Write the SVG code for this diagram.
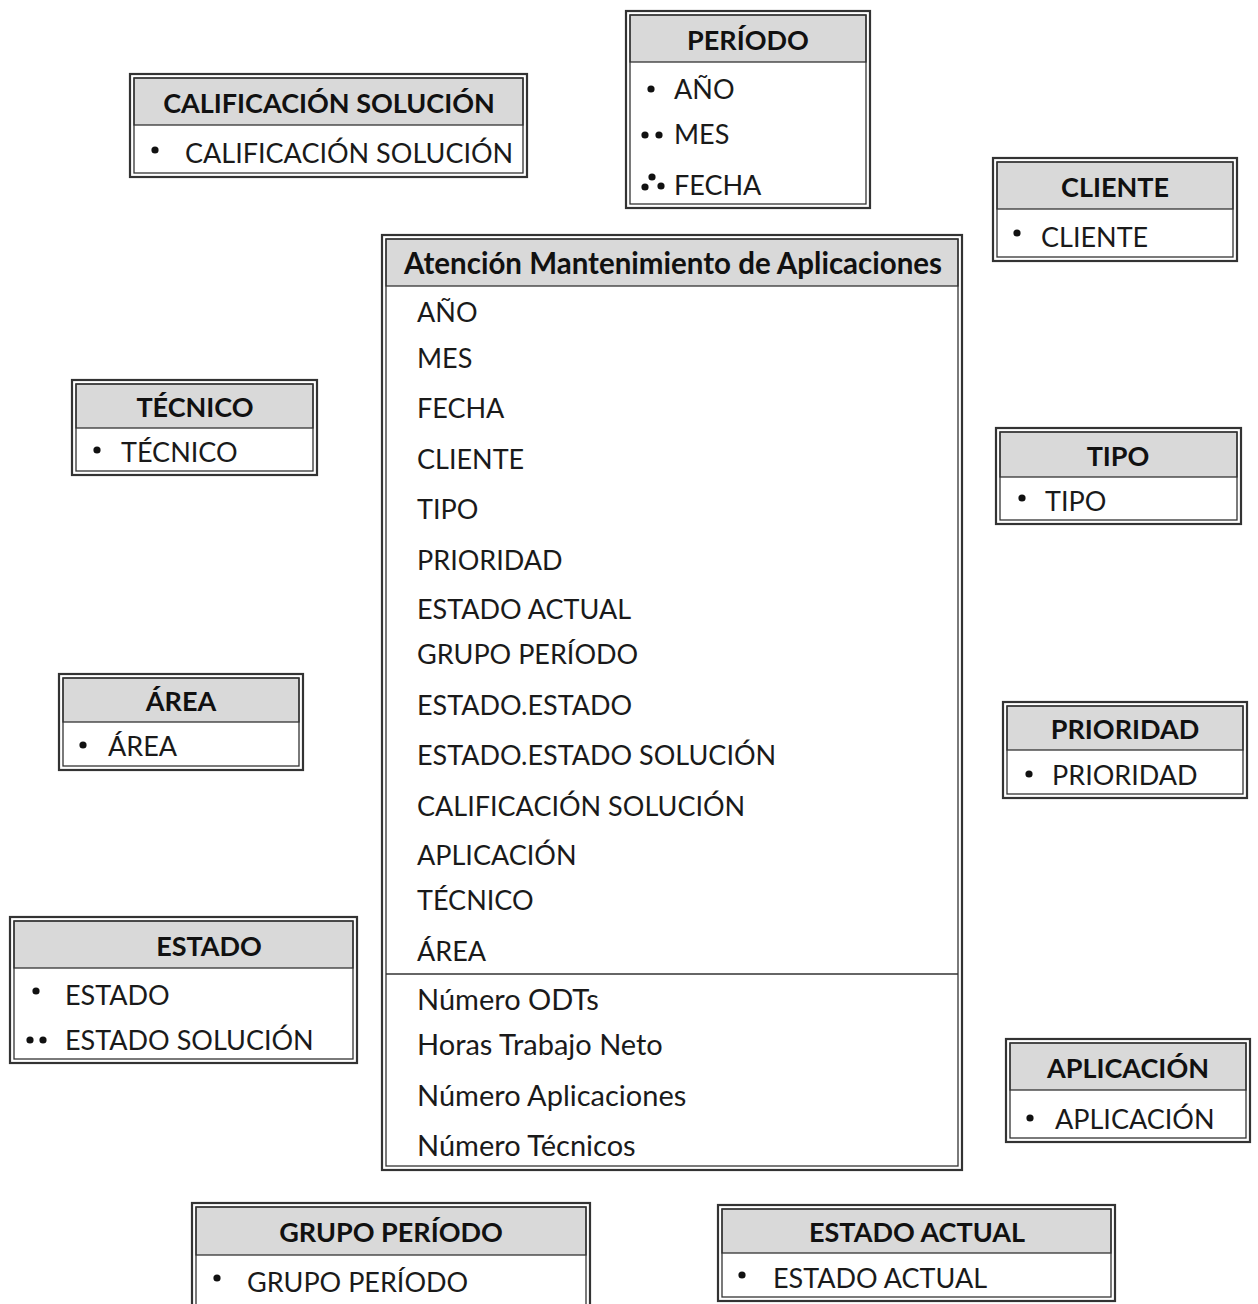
<svg xmlns="http://www.w3.org/2000/svg" width="1258" height="1304" viewBox="0 0 1258 1304">
  <style>
    .outer { fill: #ffffff; stroke: #333333; stroke-width: 2.2; }
    .inner { fill: none; stroke: #333333; stroke-width: 1.3; }
    .head { fill: #d9d9d9; stroke: #333333; stroke-width: 1.3; }
    .sep { stroke: #333333; stroke-width: 1.5; }
    .title { font-family: Lato, "Liberation Sans", sans-serif; font-weight: bold; font-size: 27px; fill: #111; text-anchor: middle; }
    .title-mixed { font-size: 29.5px; }
    .item { font-family: Lato, "Liberation Sans", sans-serif; font-size: 27px; fill: #1a1a1a; }
    .measure { font-size: 29px; }
    .dot { fill: #111; }
  </style>
  <rect width="1258" height="1304" fill="#ffffff"/>

  <!-- CALIFICACIÓN SOLUCIÓN -->
  <g id="calificacion">
    <rect class="outer" x="130" y="74" width="397" height="103"/>
    <rect class="head" x="134" y="78" width="389" height="47"/>
    <rect class="inner" x="134" y="78" width="389" height="95"/>
    <text class="title" x="329" y="113">CALIFICACIÓN SOLUCIÓN</text>
    <circle class="dot" cx="155" cy="150" r="3.6"/>
    <text class="item" x="185" y="163">CALIFICACIÓN SOLUCIÓN</text>
  </g>

  <!-- PERÍODO -->
  <g id="periodo">
    <rect class="outer" x="626" y="11" width="244" height="197"/>
    <rect class="head" x="630" y="15" width="236" height="47"/>
    <rect class="inner" x="630" y="15" width="236" height="189"/>
    <text class="title" x="748" y="50">PERÍODO</text>
    <circle class="dot" cx="651" cy="89" r="3.6"/>
    <text class="item" x="674" y="99">AÑO</text>
    <circle class="dot" cx="645" cy="135" r="3.6"/>
    <circle class="dot" cx="659" cy="135" r="3.6"/>
    <text class="item" x="674" y="144">MES</text>
    <circle class="dot" cx="652" cy="177" r="3.6"/>
    <circle class="dot" cx="645" cy="187" r="3.6"/>
    <circle class="dot" cx="661" cy="186" r="3.6"/>
    <text class="item" x="674" y="195">FECHA</text>
  </g>

  <!-- CLIENTE -->
  <g id="cliente">
    <rect class="outer" x="993" y="158" width="244" height="103"/>
    <rect class="head" x="997" y="162" width="236" height="47"/>
    <rect class="inner" x="997" y="162" width="236" height="95"/>
    <text class="title" x="1115" y="197">CLIENTE</text>
    <circle class="dot" cx="1017" cy="233" r="3.6"/>
    <text class="item" x="1041" y="247">CLIENTE</text>
  </g>

  <!-- Atención Mantenimiento de Aplicaciones -->
  <g id="hecho">
    <rect class="outer" x="382" y="235" width="580" height="935"/>
    <rect class="head" x="386" y="239" width="572" height="47"/>
    <rect class="inner" x="386" y="239" width="572" height="927"/>
    <text class="title title-mixed" x="673" y="274">Atención Mantenimiento de Aplicaciones</text>
    <text class="item" x="417" y="322">AÑO</text>
    <text class="item" x="417" y="368">MES</text>
    <text class="item" x="417" y="418">FECHA</text>
    <text class="item" x="417" y="469">CLIENTE</text>
    <text class="item" x="417" y="519">TIPO</text>
    <text class="item" x="417" y="570">PRIORIDAD</text>
    <text class="item" x="417" y="619">ESTADO ACTUAL</text>
    <text class="item" x="417" y="664">GRUPO PERÍODO</text>
    <text class="item" x="417" y="715">ESTADO.ESTADO</text>
    <text class="item" x="417" y="765">ESTADO.ESTADO SOLUCIÓN</text>
    <text class="item" x="417" y="816">CALIFICACIÓN SOLUCIÓN</text>
    <text class="item" x="417" y="865">APLICACIÓN</text>
    <text class="item" x="417" y="910">TÉCNICO</text>
    <text class="item" x="417" y="961">ÁREA</text>
    <line class="sep" x1="386" y1="974" x2="958" y2="974"/>
    <text class="item measure" x="417" y="1010">Número ODTs</text>
    <text class="item measure" x="417" y="1055">Horas Trabajo Neto</text>
    <text class="item measure" x="417" y="1106">Número Aplicaciones</text>
    <text class="item measure" x="417" y="1156">Número Técnicos</text>
  </g>

  <!-- TÉCNICO -->
  <g id="tecnico">
    <rect class="outer" x="72" y="380" width="245" height="95"/>
    <rect class="head" x="76" y="384" width="237" height="44"/>
    <rect class="inner" x="76" y="384" width="237" height="87"/>
    <text class="title" x="195" y="417">TÉCNICO</text>
    <circle class="dot" cx="97" cy="450" r="3.6"/>
    <text class="item" x="121" y="462">TÉCNICO</text>
  </g>

  <!-- TIPO -->
  <g id="tipo">
    <rect class="outer" x="996" y="428" width="245" height="96"/>
    <rect class="head" x="1000" y="432" width="237" height="45"/>
    <rect class="inner" x="1000" y="432" width="237" height="88"/>
    <text class="title" x="1118" y="466">TIPO</text>
    <circle class="dot" cx="1022" cy="498" r="3.6"/>
    <text class="item" x="1045" y="511">TIPO</text>
  </g>

  <!-- ÁREA -->
  <g id="area">
    <rect class="outer" x="59" y="674" width="244" height="96"/>
    <rect class="head" x="63" y="678" width="236" height="44"/>
    <rect class="inner" x="63" y="678" width="236" height="88"/>
    <text class="title" x="181" y="711">ÁREA</text>
    <circle class="dot" cx="83" cy="745" r="3.6"/>
    <text class="item" x="108" y="756">ÁREA</text>
  </g>

  <!-- PRIORIDAD -->
  <g id="prioridad">
    <rect class="outer" x="1003" y="702" width="244" height="96"/>
    <rect class="head" x="1007" y="706" width="236" height="44"/>
    <rect class="inner" x="1007" y="706" width="236" height="88"/>
    <text class="title" x="1125" y="739">PRIORIDAD</text>
    <circle class="dot" cx="1029" cy="774" r="3.6"/>
    <text class="item" x="1052" y="785">PRIORIDAD</text>
  </g>

  <!-- ESTADO -->
  <g id="estado">
    <rect class="outer" x="10" y="917" width="347" height="146"/>
    <rect class="head" x="14" y="921" width="339" height="47"/>
    <rect class="inner" x="14" y="921" width="339" height="138"/>
    <text class="title" x="209" y="956">ESTADO</text>
    <circle class="dot" cx="36" cy="991" r="3.6"/>
    <text class="item" x="65" y="1005">ESTADO</text>
    <circle class="dot" cx="30" cy="1040" r="3.6"/>
    <circle class="dot" cx="43" cy="1040" r="3.6"/>
    <text class="item" x="65" y="1050">ESTADO SOLUCIÓN</text>
  </g>

  <!-- APLICACIÓN -->
  <g id="aplicacion">
    <rect class="outer" x="1006" y="1039" width="244" height="103"/>
    <rect class="head" x="1010" y="1043" width="236" height="47"/>
    <rect class="inner" x="1010" y="1043" width="236" height="95"/>
    <text class="title" x="1128" y="1078">APLICACIÓN</text>
    <circle class="dot" cx="1030" cy="1118" r="3.6"/>
    <text class="item" x="1055" y="1129">APLICACIÓN</text>
  </g>

  <!-- GRUPO PERÍODO -->
  <g id="grupo-periodo">
    <rect class="outer" x="192" y="1203" width="398" height="110"/>
    <rect class="head" x="196" y="1207" width="390" height="48"/>
    <rect class="inner" x="196" y="1207" width="390" height="110"/>
    <text class="title" x="391" y="1242">GRUPO PERÍODO</text>
    <circle class="dot" cx="217" cy="1278" r="3.6"/>
    <text class="item" x="247" y="1292">GRUPO PERÍODO</text>
  </g>

  <!-- ESTADO ACTUAL -->
  <g id="estado-actual">
    <rect class="outer" x="718" y="1205" width="397" height="96"/>
    <rect class="head" x="722" y="1209" width="389" height="44"/>
    <rect class="inner" x="722" y="1209" width="389" height="88"/>
    <text class="title" x="917" y="1242">ESTADO ACTUAL</text>
    <circle class="dot" cx="742" cy="1275" r="3.6"/>
    <text class="item" x="773" y="1288">ESTADO ACTUAL</text>
  </g>
</svg>
